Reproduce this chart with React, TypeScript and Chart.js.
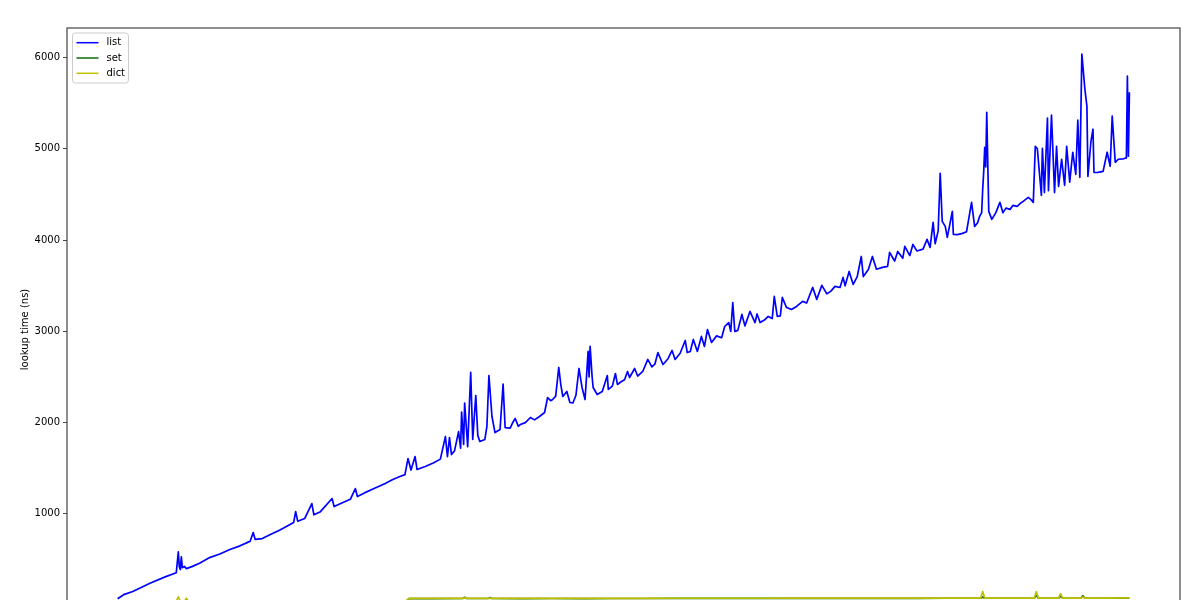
import { useEffect, useRef } from 'react';
import Chart from 'chart.js/auto';

// list lookup times (n = list size index, ns)
const listSizes = [
  0, 6, 15, 32, 47, 58, 60, 61, 62, 63, 64, 66, 68, 74, 81, 91, 101, 111, 121, 128,
  131, 134, 136, 143, 151, 160, 170, 174, 176, 178, 185, 192, 194, 200, 212, 214, 220, 230, 235, 237,
  244, 254, 264, 272, 279, 284, 287, 290, 294, 296, 304, 312, 319, 324, 326, 328, 330, 333, 337, 339,
  340, 342, 343, 346, 349, 351, 354, 356, 358, 363, 365, 367, 370, 373, 378, 381, 383, 388, 391, 393,
  396, 398, 403, 408, 412, 417, 422, 425, 428, 430, 433, 436, 438, 440, 444, 447, 450, 453, 456, 459,
  462, 464, 465, 466, 467, 469, 470, 474, 479, 484, 485, 489, 492, 494, 498, 501, 504, 506, 511, 514,
  519, 524, 528, 531, 534, 539, 544, 548, 551, 556, 561, 563, 566, 569, 573, 577, 580, 583, 587, 592,
  597, 600, 604, 606, 608, 610, 613, 617, 620, 625, 630, 632, 635, 640, 643, 647, 649, 652, 655, 657,
  661, 666, 671, 677, 681, 687, 691, 696, 701, 705, 709, 714, 717, 719, 723, 727, 731, 735, 737, 742,
  746, 750, 756, 761, 763, 768, 771, 776, 778, 783, 786, 790, 796, 800, 803, 806, 808, 811, 813, 815,
  818, 820, 825, 826, 830, 835, 839, 844, 847, 850, 852, 854, 855, 856, 857, 858, 859, 861, 864, 868,
  872, 875, 878, 882, 885, 889, 892, 895, 900, 903, 905, 907, 909, 913, 914, 916, 919, 920, 923, 926,
  928, 930, 933, 936, 938, 941, 944, 947, 949, 951, 953, 956, 958, 959, 962, 964, 965, 969, 974, 978,
  981, 983, 986, 989, 994, 997, 998, 999, 1000,
];
const listTimes = [
  71, 115, 150, 240, 310, 355, 585, 420, 390, 530, 410, 425, 400, 425, 460, 521, 560, 610, 650, 685,
  700, 795, 720, 730, 775, 820, 880, 905, 1025, 920, 950, 1113, 990, 1020, 1168, 1080, 1110, 1160, 1277, 1190,
  1230, 1280, 1330, 1376, 1409, 1430, 1606, 1480, 1628, 1486, 1520, 1557, 1600, 1848, 1628, 1837, 1650, 1690, 1902, 1720,
  2116, 1760, 2215, 1737, 2550, 1815, 2297, 1860, 1793, 1815, 1958, 2516, 2067, 1891, 1924, 2423, 1946, 1940, 2010, 2045,
  1960, 1979, 2000, 2056, 2030, 2067, 2111, 2275, 2240, 2253, 2290, 2604, 2420, 2286, 2341, 2220, 2215, 2300, 2593, 2385,
  2253, 2600, 2780, 2500, 2835, 2500, 2385, 2308, 2340, 2516, 2363, 2400, 2538, 2418, 2450, 2470, 2560, 2494, 2593, 2510,
  2560, 2692, 2610, 2640, 2768, 2637, 2700, 2791, 2692, 2760, 2900, 2768, 2779, 2911, 2780, 2944, 2835, 3020, 2878, 2950,
  2930, 3053, 3096, 3000, 3316, 2998, 3010, 3185, 3060, 3218, 3096, 3190, 3096, 3130, 3163, 3140, 3382, 3163, 3170, 3371,
  3262, 3240, 3273, 3328, 3310, 3481, 3350, 3503, 3410, 3440, 3492, 3480, 3591, 3500, 3656, 3514, 3600, 3820, 3600, 3678,
  3820, 3680, 3700, 3711, 3864, 3770, 3875, 3800, 3930, 3830, 3952, 3880, 3900, 4007, 3920, 4194, 3960, 4100, 4731, 4204,
  4150, 4029, 4314, 4062, 4060, 4073, 4090, 4413, 4150, 4190, 4260, 4300, 4556, 4750, 5016, 4800, 5400, 4314, 4227, 4300,
  4413, 4300, 4350, 4336, 4380, 4369, 4400, 4424, 4468, 4440, 4413, 5027, 5000, 4490, 5005, 4520, 5336, 4540, 5368, 4520,
  5027, 4589, 4885, 4600, 5027, 4633, 4962, 4720, 5313, 4687, 6036, 5652, 5466, 4698, 5082, 5214, 4740, 4742, 4753, 4962,
  4808, 5357, 4852, 4885, 4890, 4900, 5795, 4918, 5620,
];

// set / dict lookups share one x grid
const hashSizes = [
  0, 20, 40, 58, 60, 62, 66, 68, 70, 90, 120, 150, 180, 210, 240, 270, 285, 288,
  310, 341, 343, 345, 366, 368, 370, 400, 430, 460, 490, 520, 550, 580, 610, 640,
  670, 700, 730, 760, 790, 820, 853, 855, 857, 880, 906, 908, 910, 930, 932, 934,
  952, 954, 956, 980, 1000,
];
const setTimes = [
  34, 35, 36, 37, 48, 38, 38, 46, 38, 38, 39, 39, 40, 40, 40, 41, 41, 72,
  72, 73, 86, 73, 73, 84, 73, 72, 73, 72, 73, 73, 74, 74, 74, 74,
  75, 75, 75, 75, 75, 76, 76, 90, 76, 76, 76, 112, 76, 76, 96, 76,
  76, 104, 76, 76, 77,
];
const dictTimes = [
  36, 37, 38, 39, 92, 40, 40, 76, 40, 40, 41, 41, 42, 42, 42, 43, 43, 74,
  74, 75, 80, 75, 75, 78, 75, 74, 75, 74, 75, 75, 76, 76, 76, 76,
  77, 77, 77, 77, 77, 78, 78, 150, 78, 78, 78, 148, 78, 78, 126, 78,
  78, 90, 78, 78, 79,
];

const yTicks = [0, 1000, 2000, 3000, 4000, 5000, 6000];

const toPoints = (xs: number[], ys: number[]) => xs.map((x, i) => ({ x, y: ys[i] }));

// axes frame + matplotlib-style legend in the upper left
const frameAndLegend = {
  id: 'frameAndLegend',
  afterDraw(chart: Chart) {
    const { ctx, chartArea } = chart;
    ctx.save();
    ctx.strokeStyle = '#444';
    ctx.lineWidth = 1.2;
    ctx.strokeRect(chartArea.left, chartArea.top, chartArea.right - chartArea.left, chartArea.bottom - chartArea.top);

    const x0 = chartArea.left + 5.5;
    const y0 = chartArea.top + 5;
    ctx.beginPath();
    ctx.roundRect(x0, y0, 56, 50, 3);
    ctx.fillStyle = 'rgba(255,255,255,0.8)';
    ctx.fill();
    ctx.strokeStyle = '#cccccc';
    ctx.lineWidth = 1;
    ctx.stroke();

    ctx.font = '10px "DejaVu Sans"';
    ctx.textBaseline = 'middle';
    chart.data.datasets.forEach((ds, i) => {
      const y = y0 + 9.7 + i * 15.3;
      ctx.strokeStyle = ds.borderColor as string;
      ctx.lineWidth = 1.5;
      ctx.beginPath();
      ctx.moveTo(x0 + 4, y);
      ctx.lineTo(x0 + 26, y);
      ctx.stroke();
      ctx.fillStyle = '#000';
      ctx.fillText(ds.label ?? '', x0 + 34, y);
    });
    ctx.restore();
  },
};

export default function App() {
  const canvasRef = useRef<HTMLCanvasElement>(null);

  useEffect(() => {
    const canvas = canvasRef.current;
    if (!canvas) return;

    Chart.defaults.font.family = '"DejaVu Sans", sans-serif';
    Chart.defaults.font.size = 10;
    Chart.defaults.color = '#000';

    const chart = new Chart(canvas, {
      type: 'line',
      data: {
        datasets: [
          { label: 'list', data: toPoints(listSizes, listTimes), borderColor: '#0000ff', order: 2 },
          { label: 'set', data: toPoints(hashSizes, setTimes), borderColor: '#0b6e0b', order: 1 },
          { label: 'dict', data: toPoints(hashSizes, dictTimes), borderColor: '#bfbf00', order: 0 },
        ],
      },
      options: {
        animation: false,
        responsive: true,
        maintainAspectRatio: false,
        layout: { padding: { top: 28, right: 20, bottom: 29, left: 0 } },
        elements: {
          line: { borderWidth: 1.7, tension: 0, borderJoinStyle: 'round', fill: false },
          point: { radius: 0, hoverRadius: 0 },
        },
        plugins: { legend: { display: false }, tooltip: { enabled: false } },
        scales: {
          x: { type: 'linear', min: -50, max: 1050, display: false },
          y: {
            type: 'linear',
            min: -283,
            max: 6323,
            afterBuildTicks: (scale) => {
              scale.ticks = yTicks.map((value) => ({ value }));
            },
            afterFit: (scale) => {
              scale.width = 67;
            },
            border: { display: false },
            grid: { drawOnChartArea: false, tickLength: 4, color: '#444', lineWidth: 1 },
            ticks: { padding: 3, color: '#000', font: { size: 10 }, callback: (v) => String(v) },
            title: {
              display: true,
              text: 'lookup time (ns)',
              color: '#000',
              font: { size: 10 },
              padding: { top: 19, bottom: 4 },
            },
          },
        },
      },
      plugins: [frameAndLegend],
    });

    return () => chart.destroy();
  }, []);

  return (
    <div style={{ position: 'fixed', left: 0, top: 0, width: 1200, height: 600, overflow: 'hidden', background: '#fff' }}>
      <div style={{ position: 'relative', width: 1200, height: 660 }}>
        <canvas ref={canvasRef} />
      </div>
    </div>
  );
}
